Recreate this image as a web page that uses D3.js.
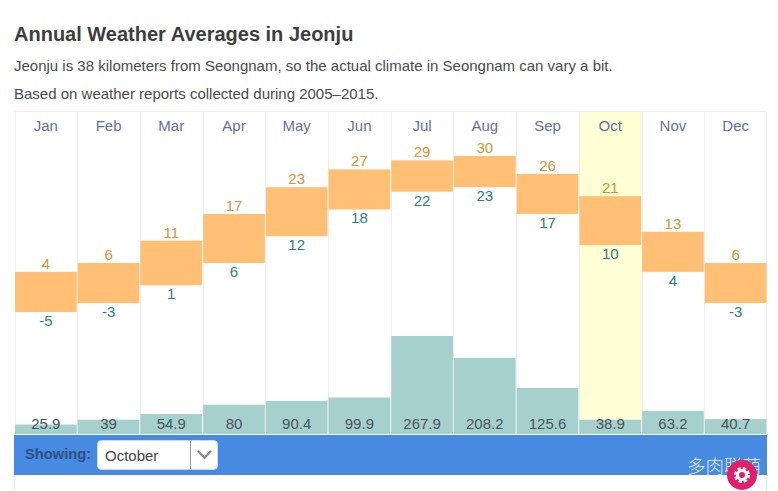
<!DOCTYPE html>
<html>
<head>
<meta charset="utf-8">
<script src="https://cdn.jsdelivr.net/npm/d3@7"></script>
<style>
    html, body { margin: 0; padding: 0; background: #fff; overflow: hidden; }
    svg { display: block; font-family: "Liberation Sans", Arial, sans-serif; }
</style>
</head>
<body>
<svg id="chart" width="778" height="491"></svg>
<script>
var months = ["Jan", "Feb", "Mar", "Apr", "May", "Jun", "Jul", "Aug", "Sep", "Oct", "Nov", "Dec"];
var highs = [4, 6, 11, 17, 23, 27, 29, 30, 26, 21, 13, 6];
var lows = [-5, -3, 1, 6, 12, 18, 22, 23, 17, 10, 4, -3];
var precip = [25.9, 39, 54.9, 80, 90.4, 99.9, 267.9, 208.2, 125.6, 38.9, 63.2, 40.7];
var selectedMonth = "Oct";

var svg = d3.select("#chart");

var x = d3.scaleBand().domain(months).range([14.5, 767]);
var tempY = d3.scaleLinear().domain([-5, 30]).range([312, 156]);
var precipY = d3.scaleLinear().domain([0, 267.9]).range([434, 336]);

var chartTop = 111.5, chartBottom = 434.5;

// Heading
svg.append("text").attr("x", 14).attr("y", 41)
    .attr("font-size", 20).attr("font-weight", "bold").attr("fill", "#3e3e3e")
    .text("Annual Weather Averages in Jeonju");
svg.append("text").attr("x", 14).attr("y", 71)
    .attr("font-size", 15).attr("fill", "#4a4a4a")
    .text("Jeonju is 38 kilometers from Seongnam, so the actual climate in Seongnam can vary a bit.");
svg.append("text").attr("x", 14).attr("y", 99)
    .attr("font-size", 15).attr("fill", "#4a4a4a")
    .text("Based on weather reports collected during 2005\u20132015.");

// Highlighted month behind everything
svg.append("rect")
    .attr("x", x(selectedMonth)).attr("y", chartTop)
    .attr("width", x.bandwidth()).attr("height", chartBottom - chartTop)
    .attr("fill", "#ffffd6");

// Grid lines
svg.append("line").attr("x1", 14.5).attr("x2", 766.5).attr("y1", chartTop).attr("y2", chartTop).attr("stroke", "#eeeeee");
svg.selectAll("line.col")
    .data(months.concat("end"))
    .enter().append("line")
    .attr("class", "col")
    .attr("x1", function (d) { return d == "end" ? 766.5 : Math.round(x(d)) + 0.5; })
    .attr("x2", function (d) { return d == "end" ? 766.5 : Math.round(x(d)) + 0.5; })
    .attr("y1", chartTop).attr("y2", chartBottom)
    .attr("stroke", "#eeeeee");

// Month names
svg.selectAll("text.month")
    .data(months)
    .enter().append("text")
    .attr("class", "month")
    .attr("x", function (d) { return x(d) + x.bandwidth() / 2; })
    .attr("y", 131)
    .attr("text-anchor", "middle").attr("font-size", 15).attr("fill", "#65719f")
    .text(function (d) { return d; });

// Precipitation bars
svg.selectAll("rect.precip")
    .data(precip)
    .enter().append("rect")
    .attr("class", "precip")
    .attr("x", function (d, i) { return x(months[i]) + 0.5; })
    .attr("y", function (d) { return precipY(d); })
    .attr("width", x.bandwidth() - 1)
    .attr("height", function (d) { return precipY(0) - precipY(d); })
    .attr("fill", "#a6d0ce");

svg.selectAll("text.precip")
    .data(precip)
    .enter().append("text")
    .attr("class", "precip")
    .attr("x", function (d, i) { return x(months[i]) + x.bandwidth() / 2; })
    .attr("y", 429)
    .attr("text-anchor", "middle").attr("font-size", 15).attr("fill", "#465657")
    .text(function (d) { return d; });

// Temperature range bars
svg.selectAll("rect.temp")
    .data(months)
    .enter().append("rect")
    .attr("class", "temp")
    .attr("x", function (d) { return x(d) + 0.5; })
    .attr("y", function (d, i) { return tempY(highs[i]); })
    .attr("width", x.bandwidth() - 1)
    .attr("height", function (d, i) { return tempY(lows[i]) - tempY(highs[i]); })
    .attr("fill", "#ffbf75");

svg.selectAll("text.high")
    .data(highs)
    .enter().append("text")
    .attr("class", "high")
    .attr("x", function (d, i) { return x(months[i]) + x.bandwidth() / 2; })
    .attr("y", function (d) { return tempY(d) - 3; })
    .attr("text-anchor", "middle").attr("font-size", 15).attr("fill", "#e08f33")
    .text(function (d) { return d; });

svg.selectAll("text.low")
    .data(lows)
    .enter().append("text")
    .attr("class", "low")
    .attr("x", function (d, i) { return x(months[i]) + x.bandwidth() / 2; })
    .attr("y", function (d) { return tempY(d) + 14; })
    .attr("text-anchor", "middle").attr("font-size", 15).attr("fill", "#2a8080")
    .text(function (d) { return d; });

// Selector strip
svg.append("rect").attr("x", 14).attr("y", 435).attr("width", 753).attr("height", 40).attr("fill", "#468ae2");
svg.append("line").attr("x1", 14.5).attr("x2", 14.5).attr("y1", 475).attr("y2", 491).attr("stroke", "#ddd");
svg.append("line").attr("x1", 766.5).attr("x2", 766.5).attr("y1", 475).attr("y2", 491).attr("stroke", "#ddd");
svg.append("text").attr("x", 25).attr("y", 459)
    .attr("font-size", 14.7).attr("font-weight", "bold").attr("fill", "#2f4f80")
    .text("Showing:");
svg.append("rect").attr("x", 97.5).attr("y", 440.5).attr("width", 120).attr("height", 29).attr("rx", 4)
    .attr("fill", "#fff").attr("stroke", "#cfd8e6");
svg.append("line").attr("x1", 190.5).attr("x2", 190.5).attr("y1", 441).attr("y2", 469).attr("stroke", "#999");
svg.append("text").attr("x", 105).attr("y", 461)
    .attr("font-size", 15).attr("fill", "#444")
    .text("October");
svg.append("path")
    .attr("d", d3.line()([[198, 451], [204.5, 458], [211, 451]]))
    .attr("fill", "none").attr("stroke", "#8a8a8a").attr("stroke-width", 2.2);

// Watermark
svg.append("text").attr("x", 687).attr("y", 473)
    .attr("font-family", "'Noto Sans CJK SC'").attr("font-size", 18.5).attr("font-weight", 300).attr("fill", "#fff").attr("fill-opacity", 0.9)
    .text("多肉联萌");
svg.append("circle").attr("cx", 742).attr("cy", 475).attr("r", 15).attr("fill", "#e0206a");
svg.append("circle").attr("cx", 742).attr("cy", 475).attr("r", 6.5).attr("fill", "none").attr("stroke", "#fff").attr("stroke-width", 3).attr("stroke-dasharray", "3 2.1");
svg.append("circle").attr("cx", 742).attr("cy", 475).attr("r", 4.5).attr("fill", "none").attr("stroke", "#fff").attr("stroke-width", 3);
</script>
</body>
</html>
